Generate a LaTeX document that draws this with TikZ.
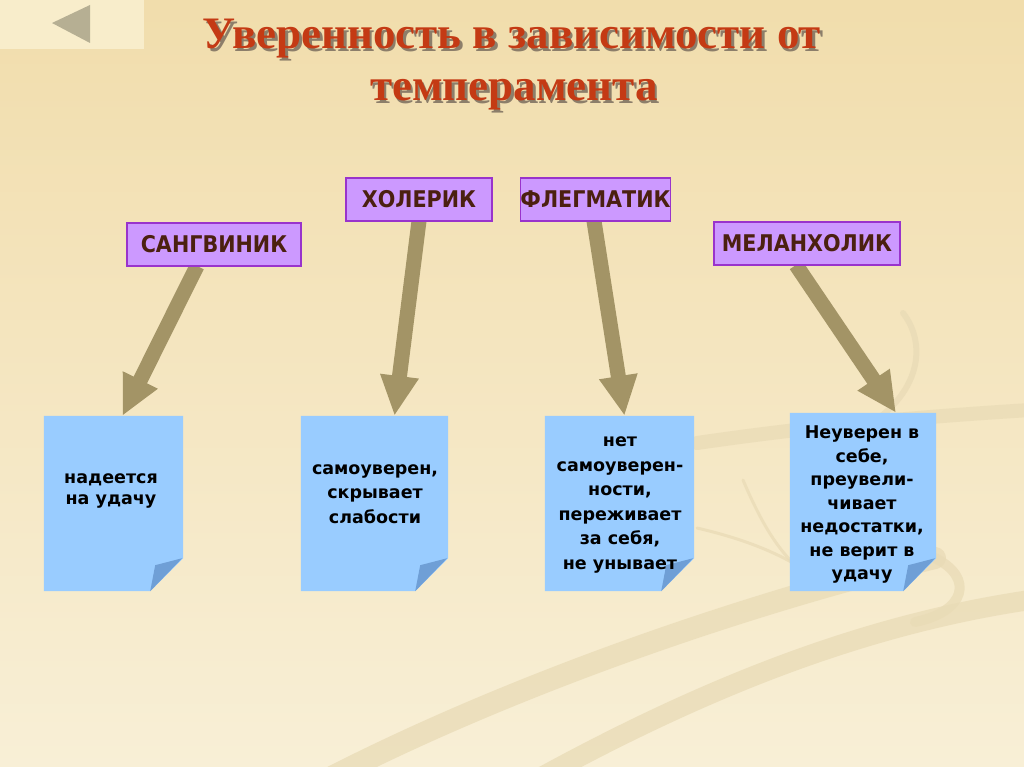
\documentclass[tikz,border=0pt]{standalone}
\usepackage{fontspec}
\setmainfont{DejaVu Sans}
\newfontfamily\titlefont{Liberation Serif}
\newfontfamily\boxfont[FakeStretch=0.9]{DejaVu Sans}
\usetikzlibrary{arrows.meta,calc}
\definecolor{bgtop}{HTML}{F1DDAC}
\definecolor{bgbot}{HTML}{F8EFD6}
\definecolor{btnfill}{HTML}{F8EDCB}
\definecolor{btntri}{HTML}{B6AF93}
\definecolor{titlecol}{HTML}{C43A14}
\definecolor{titleshd}{HTML}{5E4E3C}
\definecolor{purfill}{HTML}{CC99FF}
\definecolor{purline}{HTML}{9933CC}
\definecolor{boxtext}{HTML}{4B2010}
\definecolor{arrcol}{HTML}{A39466}
\definecolor{notefill}{HTML}{99CCFF}
\definecolor{notefold}{HTML}{6F9FD6}
\definecolor{band}{HTML}{E9DBB6}
\newcommand{\shadowed}[1]{\makebox[0pt][l]{\raisebox{-2.5pt}{\hspace{2.5pt}\textcolor{titleshd!70!bgbot}{#1}}}#1}
\tikzset{
  titletext/.style={font=\titlefont\bfseries\fontsize{45}{50}\selectfont, text=titlecol, inner sep=0pt, anchor=base},
  tempbox/.style={rectangle, fill=purfill, draw=purline, line width=1.3pt, inner sep=0pt,
    minimum height=43pt, font=\boxfont\bfseries\fontsize{23}{26}\selectfont, text=boxtext},
  notebox/.style={rectangle, inner sep=0pt},
  notetext/.style={align=center, inner sep=0pt, font=\bfseries\fontsize{17.5}{24.5}\selectfont, text=black},
  bigarrow/.style={draw=arrcol, line width=15pt, -{Triangle[length=40pt,width=36pt]}},
  bandline/.style={draw=band, line cap=round, opacity=0.75},
}
\begin{document}
\begin{tikzpicture}[x=1pt,y=-1pt]
\useasboundingbox (0,0) rectangle (1024,767);
% background
\fill[top color=bgtop, bottom color=bgbot] (0,0) rectangle (1024,767);
% decorative bands
\draw[bandline, line width=22pt] (326,780) .. controls (520,680) and (760,600) .. (935,558);
\draw[bandline, line width=10pt] (935,558) .. controls (975,578) and (965,612) .. (915,622);
\draw[bandline, line width=20pt] (536,780) .. controls (700,690) and (860,625) .. (1030,600);
\draw[bandline, line width=14pt] (697,443) .. controls (800,428) and (900,418) .. (1030,410);
\draw[bandline, line width=6pt] (903,313) .. controls (928,345) and (922,400) .. (850,436);
\draw[bandline, line width=3pt] (697,528) .. controls (740,538) and (770,550) .. (793,563);
\draw[bandline, line width=3pt] (743,480) .. controls (760,520) and (775,545) .. (793,563);
% back button
\fill[btnfill] (0,0) rectangle (144,49);
\fill[btntri] (52,23) -- (90,5) -- (90,43) -- cycle;
% title
\node[titletext] (title1) at (512,49) {\shadowed{Уверенность в зависимости от}};
\node[titletext] (title2) at (514,101) {\shadowed{темперамента}};
% notes
\node[notebox, minimum width=139pt, minimum height=175pt] (n1) at (113.5,503.5) {};
\node[notebox, minimum width=147pt, minimum height=175pt] (n2) at (374.5,503.5) {};
\node[notebox, minimum width=149pt, minimum height=175pt] (n3) at (619.5,503.5) {};
\node[notebox, minimum width=146pt, minimum height=178pt] (n4) at (863,502) {};
\foreach \n in {n1,n2,n3,n4}{
  \fill[notefill] (\n.north west) -- (\n.north east) -- ($(\n.south east)+(0,-33)$)
     -- ($(\n.south east)+(-33,0)$) -- (\n.south west) -- cycle;
  \fill[notefold] ($(\n.south east)+(-33,0)$) -- ($(\n.south east)+(-28,-26)$)
     -- ($(\n.south east)+(-1,-33)$) -- cycle;
}
% temperament boxes (positions)
\path (214,244.5) coordinate (sangc) (419,199.5) coordinate (holc)
      (595.5,199.5) coordinate (flegc) (807,243.5) coordinate (melc);
% arrows first, boxes on top
\path (sangc) ++(-17,21.5) coordinate (sangs);
\path (holc) ++(0,21.5) coordinate (hols);
\path (flegc) ++(-1.5,21.5) coordinate (flegs);
\path (melc) ++(-11,21.5) coordinate (mels);
\draw[bigarrow] (sangs) -- ([xshift=9pt]n1.north);
\draw[bigarrow] (hols) -- ([xshift=20pt]n2.north);
\draw[bigarrow] (flegs) -- ([xshift=5pt]n3.north);
\draw[bigarrow] (mels) -- ([xshift=33pt]n4.north);
\node[tempbox, minimum width=174pt] (sang) at (sangc) {САНГВИНИК};
\node[tempbox, minimum width=146pt] (hol) at (holc) {ХОЛЕРИК};
\node[tempbox, minimum width=149pt] (fleg) at (flegc) {ФЛЕГМАТИК};
\node[tempbox, minimum width=186pt] (mel) at (melc) {МЕЛАНХОЛИК};
% note texts
\node[notetext, font=\bfseries\fontsize{17.5}{20.5}\selectfont] (t1) at (111,491) {надеется\\на удачу};
\node[notetext] (t2) at (375,494) {самоуверен,\\скрывает\\слабости};
\node[notetext] (t3) at (620,505) {нет\\самоуверен-\\ности,\\переживает\\за себя,\\не унывает};
\node[notetext, font=\bfseries\fontsize{17.5}{23.5}\selectfont] (t4) at (862,505) {Неуверен в\\себе,\\преувели-\\чивает\\недостатки,\\не верит в\\удачу};
\end{tikzpicture}
\end{document}
